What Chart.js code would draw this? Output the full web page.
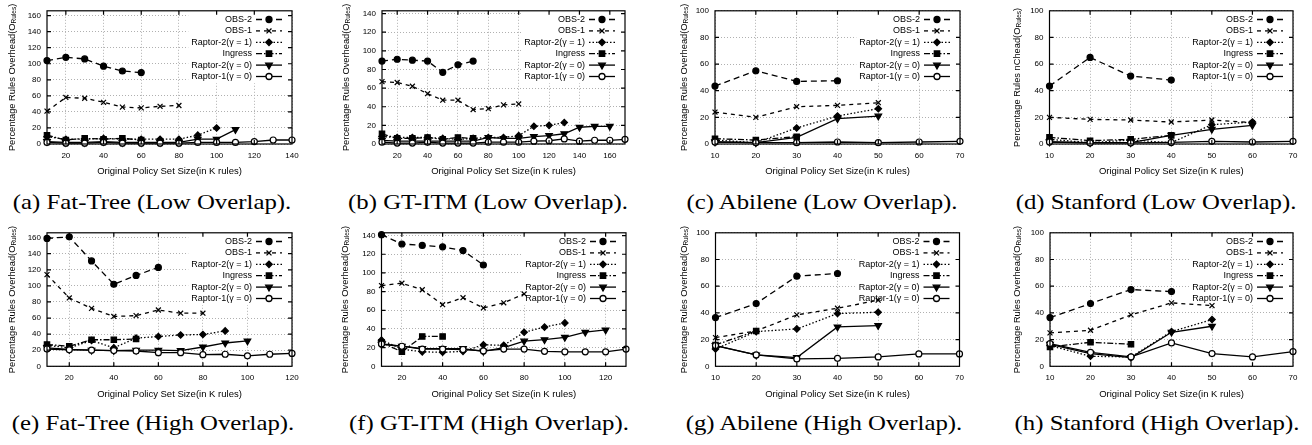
<!DOCTYPE html>
<html>
<head>
<meta charset="utf-8">
<script src="https://cdn.jsdelivr.net/npm/chart.js@4.4.1/dist/chart.umd.min.js"></script>
<style>
  body { margin: 0; background: #fff; width: 1312px; height: 445px; position: relative; overflow: hidden; }
  .cap {
    position: absolute; white-space: nowrap; color: #000;
    font-family: "Liberation Serif", "Times New Roman", serif;
    font-size: 21px; line-height: 21px;
    transform: translateX(-50%) scaleX(1.18);
  }
</style>
</head>
<body>
<script>
// x values shared by every panel (K rules)
const policySizes = [10, 20, 30, 40, 50, 60, 70, 80, 90, 100, 110, 120, 130, 140, 150, 160, 170];
const seriesNames = ['OBS-2', 'OBS-1', 'Raptor-2(γ = 1)', 'Ingress', 'Raptor-2(γ = 0)', 'Raptor-1(γ = 0)'];

// tick labels
const xTicks140 = [20, 40, 60, 80, 100, 120, 140];
const xTicks160 = [20, 40, 60, 80, 100, 120, 140, 160];
const xTicks120 = [20, 40, 60, 80, 100, 120];
const xTicks70 = [10, 20, 30, 40, 50, 60, 70];
const yTicks160 = [0, 20, 40, 60, 80, 100, 120, 140, 160];
const yTicks140 = [0, 20, 40, 60, 80, 100, 120, 140];
const yTicks100 = [0, 20, 40, 60, 80, 100];

// (a) Fat-Tree, low overlap
const fatLowObs2 = [104, 108, 106, 97, 91, 89];
const fatLowObs1 = [41, 58, 57, 52, 46, 45, 47, 48];
const fatLowR2g1 = [9, 6, 6, 7, 6, 6, 6, 6, 11, 20];
const fatLowIngress = [11, 5, 7, 6, 7, 5];
const fatLowR2g0 = [3, 2, 2, 3, 2, 2, 2, 2, 6, 6, 18];
const fatLowR1g0 = [2, 1, 1, 2, 1, 1, 1, 1, 2, 2, 2, 3, 5, 5];

// (b) GT-ITM, low overlap
const gtLowObs2 = [89, 91, 90, 89, 77, 85, 89];
const gtLowObs1 = [67, 66, 62, 54, 47, 47, 37, 38, 42, 43];
const gtLowR2g1 = [8, 7, 7, 7, 6, 5, 6, 7, 7, 9, 19, 20, 23];
const gtLowIngress = [11, 6, 6, 7, 5, 7, 6];
const gtLowR2g0 = [4, 3, 3, 3, 3, 3, 3, 7, 6, 6, 8, 9, 11, 18, 19, 19];
const gtLowR1g0 = [2, 1, 1, 2, 1, 1, 1, 2, 2, 2, 3, 3.5, 5.5, 3, 4, 4, 5];

// (c) Abilene, low overlap
const abLowObs2 = [43.5, 55, 47, 47.5];
const abLowObs1 = [24, 20, 28, 29, 31];
const abLowR2g1 = [3, 1, 12, 21, 26.5];
const abLowIngress = [4, 3, 5.5];
const abLowR2g0 = [1.5, 1, 5, 19, 21];
const abLowR1g0 = [1.5, 1, 1, 1.5, 1, 1.5, 2];

// (d) Stanford, low overlap
const stLowObs2 = [43.5, 65, 51, 48];
const stLowObs1 = [20, 18.5, 18, 16.5, 18, 16];
const stLowR2g1 = [3.5, 1, 3, 1, 14.5, 16.5];
const stLowIngress = [5, 2.5, 3.5, 6.5];
const stLowR2g0 = [1.5, 1, 1, 6.5, 11, 14];
const stLowR1g0 = [1.5, 0.8, 0.8, 1.2, 2, 1.5, 2];

// (e) Fat-Tree, high overlap
const fatHighObs2 = [159, 161, 131, 102, 113, 123];
const fatHighObs1 = [114, 85, 72, 62, 63, 70, 66, 66];
const fatHighR2g1 = [26, 23, 32, 23, 35, 37, 39, 39.5, 44];
const fatHighIngress = [27, 25, 33, 33, 34];
const fatHighR2g0 = [23, 21, 20, 19.5, 20, 20, 19.5, 24, 29, 31.5];
const fatHighR1g0 = [21.5, 20.5, 20, 19.5, 19, 17, 17, 14.5, 15, 13, 15, 16];

// (f) GT-ITM, high overlap
const gtHighObs2 = [141, 131, 129.5, 128, 124, 108.5];
const gtHighObs1 = [86.5, 89, 82, 66, 73.5, 62.5, 68, 77.5];
const gtHighR2g1 = [28, 18.5, 15.5, 15, 16, 23, 22.5, 36.5, 42, 46.5];
const gtHighIngress = [25.5, 15.5, 32, 32];
const gtHighR2g0 = [23.5, 21.5, 19, 19, 19, 16, 20, 27, 28.5, 31, 36.5, 39];
const gtHighR1g0 = [24, 21.5, 18.5, 18.5, 18, 16.5, 18.5, 18.5, 16, 15.5, 15.5, 15.5, 18.5];

// (g) Abilene, high overlap
const abHighObs2 = [36.5, 47, 67.5, 69.5];
const abHighObs1 = [21.5, 26.5, 38.5, 43.5, 49.5];
const abHighR2g1 = [13, 26, 28, 39.5, 40.5];
const abHighIngress = [16, 26.5];
const abHighR2g0 = [15.5, 8.5, 6.5, 29.5, 30.5];
const abHighR1g0 = [15.5, 8.5, 5.5, 6, 7, 9.3, 9.3];

// (h) Stanford, high overlap
const stHighObs2 = [36.5, 47, 57.5, 56];
const stHighObs1 = [25, 27, 38.5, 47.5, 45.5];
const stHighR2g1 = [15.5, 7.5, 7, 26, 35];
const stHighIngress = [14.5, 18, 16.5];
const stHighR2g0 = [16.5, 9.5, 6.5, 25.5, 30];
const stHighR1g0 = [17, 10.5, 7, 17.5, 9.5, 7, 11];

const captions = [
  '(a) Fat-Tree (Low Overlap).', '(b) GT-ITM (Low Overlap).', '(c) Abilene (Low Overlap).', '(d) Stanford (Low Overlap).',
  '(e) Fat-Tree (High Overlap).', '(f) GT-ITM (High Overlap).', '(g) Abilene (High Overlap).', '(h) Stanford (High Overlap).'
];
const xTitle = 'Original Policy Set Size(in K rules)';
const yTitleStd = 'Percentage Rules Overhead(O';
const yTitleOdd = 'Percentage Rules nChead(O';

const seriesStyles = [
  {dash: [6, 4], point: 'circle', radius: 3, fill: '#000'},
  {dash: [4, 4], point: 'crossRot', radius: 3.5, fill: '#000'},
  {dash: [1.5, 2], point: 'rectRot', radius: 3.2, fill: '#000'},
  {dash: [6, 2, 1.5, 2], point: 'rect', radius: 3.8, fill: '#000'},
  {dash: [], point: 'triangle', radius: 3.8, rotation: 180, fill: '#000'},
  {dash: [], point: 'circle', radius: 3, fill: '#fff'}
];

const panels = [
  {series: [fatLowObs2, fatLowObs1, fatLowR2g1, fatLowIngress, fatLowR2g0, fatLowR1g0], xMax: 140, xTicks: xTicks140, yMax: 166, yTicks: yTicks160, yTitle: yTitleStd, box: [47, 7, 292, 144], gap: 35, capX: 152},
  {series: [gtLowObs2, gtLowObs1, gtLowR2g1, gtLowIngress, gtLowR2g0, gtLowR1g0], xMax: 170, xTicks: xTicks160, yMax: 143, yTicks: yTicks140, yTitle: yTitleStd, box: [382, 9, 625, 144], gap: 36, capX: 488},
  {series: [abLowObs2, abLowObs1, abLowR2g1, abLowIngress, abLowR2g0, abLowR1g0], xMax: 70, xTicks: xTicks70, yMax: 100, yTicks: yTicks100, yTitle: yTitleStd, box: [715, 7, 960, 144], gap: 31, capX: 822},
  {series: [stLowObs2, stLowObs1, stLowR2g1, stLowIngress, stLowR2g0, stLowR1g0], xMax: 70, xTicks: xTicks70, yMax: 100, yTicks: yTicks100, yTitle: yTitleOdd, box: [1049.5, 8.5, 1293, 144], gap: 32.5, capX: 1156},
  {series: [fatHighObs2, fatHighObs1, fatHighR2g1, fatHighIngress, fatHighR2g0, fatHighR1g0], xMax: 120, xTicks: xTicks120, yMax: 166, yTicks: yTicks160, yTitle: yTitleStd, box: [47, 230, 292, 366.3], gap: 35, capX: 153},
  {series: [gtHighObs2, gtHighObs1, gtHighR2g1, gtHighIngress, gtHighR2g0, gtHighR1g0], xMax: 130, xTicks: xTicks120, yMax: 143, yTicks: yTicks140, yTitle: yTitleStd, box: [381.5, 230, 626, 366.3], gap: 36.5, capX: 489},
  {series: [abHighObs2, abHighObs1, abHighR2g1, abHighIngress, abHighR2g0, abHighR1g0], xMax: 70, xTicks: xTicks70, yMax: 100, yTicks: yTicks100, yTitle: yTitleStd, box: [715.5, 230, 959.5, 366.3], gap: 31.5, capX: 823.5},
  {series: [stHighObs2, stHighObs1, stHighR2g1, stHighIngress, stHighR2g0, stHighR1g0], xMax: 70, xTicks: xTicks70, yMax: 100, yTicks: yTicks100, yTitle: yTitleStd, box: [1050, 230, 1293, 366.3], gap: 33, capX: 1157}
];

Chart.defaults.font.family = "'Liberation Sans', Arial, sans-serif";
Chart.defaults.color = '#000';

const FONT = "'Liberation Sans', Arial, sans-serif";

function drawMarker(ctx, st, x, y) {
  ctx.save();
  ctx.setLineDash([]);
  ctx.fillStyle = st.fill;
  ctx.strokeStyle = '#000';
  Chart.helpers.drawPoint(ctx, {pointStyle: st.point, rotation: st.rotation || 0, radius: st.radius, borderWidth: 1.2}, x, y);
  ctx.restore();
}

// gnuplot style key: text right aligned, sample on the right, white background
const keyPlugin = {
  id: 'gpKey',
  beforeDatasetsDraw(chart) {
    const {ctx, chartArea: ca} = chart;
    const rowH = 11.4;
    const textRight = ca.right - 40;
    ctx.save();
    ctx.font = '9px ' + FONT;
    const maxW = Math.max(...seriesNames.map(n => ctx.measureText(n).width));
    ctx.fillStyle = '#fff';
    ctx.fillRect(textRight - maxW - 3, ca.top + 1, ca.right - 1 - (textRight - maxW - 3), 6 * rowH + 3);
    seriesNames.forEach((name, i) => {
      const y = ca.top + 8.7 + i * rowH;
      ctx.fillStyle = '#000';
      ctx.textAlign = 'right';
      ctx.textBaseline = 'middle';
      ctx.fillText(name, textRight, y);
      ctx.strokeStyle = '#000';
      ctx.lineWidth = 1.3;
      ctx.setLineDash(seriesStyles[i].dash);
      ctx.beginPath();
      ctx.moveTo(ca.right - 36, y);
      ctx.lineTo(ca.right - 10, y);
      ctx.stroke();
      drawMarker(ctx, seriesStyles[i], ca.right - 23, y);
    });
    ctx.restore();
  }
};

// full box border with inward ticks on all four sides
const framePlugin = {
  id: 'gpFrame',
  afterDatasetsDraw(chart) {
    const {ctx, chartArea: ca, scales} = chart;
    ctx.save();
    ctx.strokeStyle = '#000';
    ctx.lineWidth = 1.2;
    ctx.setLineDash([]);
    ctx.strokeRect(ca.left, ca.top, ca.right - ca.left, ca.bottom - ca.top);
    ctx.beginPath();
    scales.x.ticks.forEach(t => {
      const x = scales.x.getPixelForValue(t.value);
      if (x <= ca.left + 1 || x >= ca.right - 1) return;
      ctx.moveTo(x, ca.bottom); ctx.lineTo(x, ca.bottom - 4);
      ctx.moveTo(x, ca.top); ctx.lineTo(x, ca.top + 4);
    });
    scales.y.ticks.forEach(t => {
      const y = scales.y.getPixelForValue(t.value);
      if (y <= ca.top + 1 || y >= ca.bottom - 1) return;
      ctx.moveTo(ca.left, y); ctx.lineTo(ca.left + 4, y);
      ctx.moveTo(ca.right, y); ctx.lineTo(ca.right - 4, y);
    });
    ctx.stroke();
    ctx.restore();
  }
};

function makeYTitlePlugin(p) {
  return {
    id: 'gpYTitle',
    afterDraw(chart) {
      const {ctx, chartArea: ca} = chart;
      ctx.save();
      ctx.translate(ca.left - p.gap, (ca.top + ca.bottom) / 2);
      ctx.rotate(-Math.PI / 2);
      ctx.fillStyle = '#000';
      ctx.textBaseline = 'middle';
      ctx.textAlign = 'left';
      ctx.font = '9.3px ' + FONT;
      const w1 = ctx.measureText(p.yTitle).width;
      const w3 = ctx.measureText(')').width;
      ctx.font = '6.5px ' + FONT;
      const w2 = ctx.measureText('Rules').width;
      const start = -(w1 + w2 + w3) / 2;
      ctx.font = '9.3px ' + FONT;
      ctx.fillText(p.yTitle, start, 0);
      ctx.fillText(')', start + w1 + w2, 0);
      ctx.font = '6.5px ' + FONT;
      ctx.fillText('Rules', start + w1, 2.3);
      ctx.restore();
    }
  };
}

panels.forEach((p, k) => {
  const col = k % 4, row = Math.floor(k / 4);
  const cx = col * 328, cy = row * 222;
  const cw = 328, ch = 186;
  const [L, T, R, B] = p.box;
  const yw = 26;
  const titleY = row ? 394 : 171.7;
  const xh = titleY + 5.7 - B;

  const canvas = document.createElement('canvas');
  canvas.width = cw;
  canvas.height = ch;
  canvas.style.cssText = `position:absolute;left:${cx}px;top:${cy}px;width:${cw}px;height:${ch}px`;
  document.body.appendChild(canvas);

  const datasets = p.series.map((vals, i) => {
    const st = seriesStyles[i];
    return {
      label: seriesNames[i],
      data: vals.map((v, j) => ({x: policySizes[j], y: v})),
      borderColor: '#000',
      borderWidth: 1.3,
      borderDash: st.dash,
      pointStyle: st.point,
      pointRadius: st.radius,
      pointRotation: st.rotation || 0,
      pointBackgroundColor: st.fill,
      pointBorderColor: '#000',
      pointBorderWidth: 1.2,
      fill: false,
      tension: 0,
      clip: false,
      order: 5 - i
    };
  });

  new Chart(canvas, {
    type: 'line',
    data: {datasets},
    options: {
      responsive: false,
      animation: false,
      devicePixelRatio: 1,
      layout: {
        autoPadding: false,
        padding: {left: L - cx - yw, top: T - cy, right: cx + cw - R, bottom: cy + ch - B - xh}
      },
      plugins: {legend: {display: false}, tooltip: {enabled: false}},
      scales: {
        x: {
          type: 'linear', min: 10, max: p.xMax,
          afterBuildTicks: s => { s.ticks = p.xTicks.map(v => ({value: v})); },
          afterFit: s => { s.height = xh; },
          grid: {color: '#b0b0b0', lineWidth: 1, drawTicks: false},
          border: {display: false, dash: [1, 2]},
          ticks: {padding: 7, font: {size: 8}, color: '#000', maxRotation: 0, autoSkip: false},
          title: {display: true, text: xTitle, font: {size: 9.5}, color: '#000', padding: 0}
        },
        y: {
          min: 0, max: p.yMax,
          afterBuildTicks: s => { s.ticks = p.yTicks.map(v => ({value: v})); },
          afterFit: s => { s.width = yw; },
          grid: {color: '#b0b0b0', lineWidth: 1, drawTicks: false},
          border: {display: false, dash: [1, 2]},
          ticks: {padding: 6, font: {size: 8}, color: '#000', autoSkip: false}
        }
      }
    },
    plugins: [keyPlugin, framePlugin, makeYTitlePlugin(p)]
  });

  const cap = document.createElement('div');
  cap.className = 'cap';
  cap.textContent = captions[k];
  cap.style.left = p.capX + 'px';
  cap.style.top = (row ? 413 : 192) + 'px';
  document.body.appendChild(cap);
});
</script>
</body>
</html>
